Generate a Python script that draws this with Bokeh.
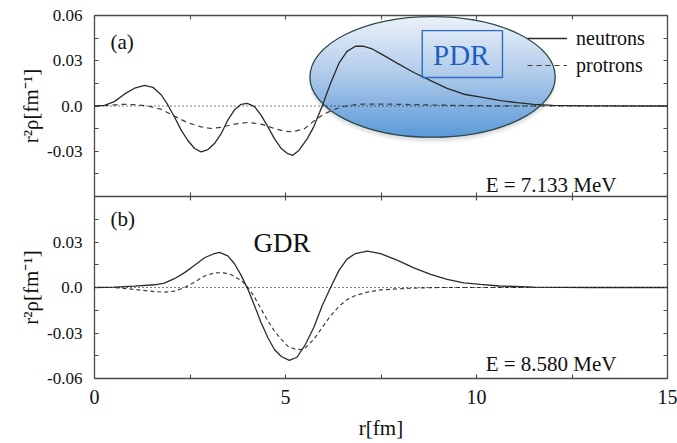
import numpy as np
from bokeh.plotting import figure
from bokeh.models import (Range1d, LinearAxis, FixedTicker, Span, BoxAnnotation,
                          Legend, LegendItem, Label, CustomJSTickFormatter)
from bokeh.layouts import column
from bokeh.embed import file_html
from bokeh.resources import INLINE

# ---------------- data ----------------
# panel (a), E = 7.133 MeV
r_a_n = [0, 0.26, 0.52, 0.79, 1.05, 1.31, 1.53, 1.75, 1.92, 2.09, 2.27, 2.44, 2.62, 2.79,
         2.97, 3.14, 3.32, 3.49, 3.66, 3.84, 4.0, 4.19, 4.36, 4.54, 4.71, 4.89, 5.06, 5.19,
         5.35, 5.57, 5.74, 5.96, 6.18, 6.4, 6.61, 6.83, 7.05, 7.27, 7.49, 7.92, 8.36, 8.8,
         9.23, 9.67, 10.19, 10.63, 11.06, 11.5, 12.0, 13.0, 15.0]
y_a_n = [0, 0.0004, 0.0029, 0.008, 0.0118, 0.0136, 0.0124, 0.0073, 0.0007, -0.0071, -0.016,
         -0.0227, -0.0282, -0.0304, -0.0289, -0.0249, -0.0182, -0.0093, -0.0027, 0.0011,
         0.0018, -0.0004, -0.006, -0.0138, -0.0216, -0.0282, -0.0316, -0.0327, -0.0295,
         -0.0216, -0.0138, 0.0, 0.0151, 0.0284, 0.0362, 0.0396, 0.0396, 0.0378, 0.0347,
         0.0284, 0.0222, 0.0168, 0.0117, 0.0078, 0.0055, 0.0036, 0.0022, 0.0011, 0.0004,
         0.0001, 0.0]
r_a_p = [0, 0.35, 0.7, 1.05, 1.4, 1.75, 2.09, 2.44, 2.79, 3.05, 3.32, 3.66, 4.01, 4.36,
         4.71, 4.97, 5.19, 5.5, 5.75, 6.0, 6.25, 6.5, 6.75, 7.0, 7.5, 8.0, 9.0, 10.0, 11.0, 15.0]
y_a_p = [0, 0.0004, 0.0011, 0.0009, 0.0, -0.0022, -0.0067, -0.0111, -0.0138, -0.0149,
         -0.0142, -0.012, -0.0109, -0.012, -0.0149, -0.0167, -0.0171, -0.015, -0.0098,
         -0.0055, -0.0025, -0.0005, 0.0006, 0.0012, 0.0013, 0.0011, 0.0006, 0.0002, 0.0, 0.0]

# panel (b), E = 8.580 MeV
r_b_n = [0, 0.52, 1.05, 1.57, 1.83, 2.09, 2.36, 2.62, 2.88, 3.14, 3.27, 3.49, 3.66, 3.84,
         4.01, 4.19, 4.36, 4.54, 4.71, 4.89, 5.1, 5.3, 5.52, 5.74, 5.96, 6.18, 6.4, 6.61,
         6.83, 7.14, 7.49, 7.92, 8.36, 8.8, 9.23, 9.67, 10.1, 10.6, 11.5, 13.0, 15.0]
y_b_n = [0, 0.0002, 0.0009, 0.0018, 0.0029, 0.0058, 0.0098, 0.0147, 0.0196, 0.0224, 0.0231,
         0.0209, 0.0158, 0.008, -0.0009, -0.012, -0.0231, -0.0331, -0.0409, -0.0455, -0.048,
         -0.046, -0.0376, -0.0264, -0.012, 0.0, 0.0113, 0.0187, 0.0224, 0.024, 0.0224,
         0.018, 0.0129, 0.0087, 0.0053, 0.0031, 0.002, 0.001, 0.0003, 0.0, 0.0]
r_b_p = [0, 0.52, 1.05, 1.57, 1.83, 2.09, 2.36, 2.62, 2.88, 3.14, 3.36, 3.58, 3.84, 4.01,
         4.19, 4.36, 4.54, 4.71, 4.89, 5.06, 5.24, 5.4, 5.52, 5.74, 5.96, 6.18, 6.4, 6.61,
         6.83, 7.14, 7.49, 7.92, 8.36, 9.0, 15.0]
y_b_p = [0, 0.0, -0.0013, -0.0027, -0.0031, -0.0024, 0.0, 0.0036, 0.0076, 0.0096, 0.0098,
         0.0084, 0.0047, 0.0003, -0.0064, -0.0142, -0.022, -0.0287, -0.0342, -0.0387,
         -0.0405, -0.041, -0.0398, -0.0342, -0.0264, -0.0187, -0.0124, -0.008, -0.0053,
         -0.0031, -0.0016, -0.0009, -0.0004, 0.0, 0.0]

x_major = [0, 5, 10, 15]
x_minor = [2.5, 7.5, 12.5]
y_major_a = [-0.03, 0.0, 0.03, 0.06]
y_minor_a = [-0.06, -0.045, -0.015, 0.015, 0.045]
y_major_b = [-0.06, -0.03, 0.0, 0.03]
y_minor_b = [-0.045, -0.015, 0.015, 0.045, 0.06]
y_labels = {-0.06: "-0.06", -0.03: "-0.03", 0: "0.0", 0.03: "0.03", 0.06: "0.06"}

FONT = "Liberation Serif"
AX = "#4a4a4a"
SOLID = "#2b2b2b"
DASH = "#3f3f3f"
INK = "#111111"


def style_axis(ax, ticks, minor, show=True, fs="17px"):
    ax.ticker = FixedTicker(ticks=ticks, minor_ticks=minor)
    ax.axis_line_color = AX
    ax.axis_line_width = 1.3
    ax.major_tick_line_color = AX
    ax.minor_tick_line_color = AX
    ax.major_tick_in = 4
    ax.major_tick_out = 0
    ax.minor_tick_in = 4
    ax.minor_tick_out = 0
    ax.major_tick_line_width = 1.1
    ax.minor_tick_line_width = 1.1
    if show:
        ax.major_label_text_font = FONT
        ax.major_label_text_font_size = fs
        ax.major_label_text_color = INK
    else:
        ax.formatter = CustomJSTickFormatter(code="return ''")
        ax.major_label_text_font_size = "0px"
        ax.major_label_standoff = 0


def make_panel(height, top_border, bottom_border):
    p = figure(width=677, height=height, output_backend="svg", toolbar_location=None,
               x_range=Range1d(0, 15), y_range=Range1d(-0.06, 0.06),
               min_border_left=94, min_border_right=10,
               min_border_top=top_border, min_border_bottom=bottom_border)
    p.grid.visible = False
    p.outline_line_color = None
    p.background_fill_color = "white"
    p.border_fill_color = "white"
    return p


def y_label(ax):
    ax.axis_label = "r²ρ[fm⁻¹]"
    ax.axis_label_text_font = FONT
    ax.axis_label_text_font_style = "normal"
    ax.axis_label_text_font_size = "21px"
    ax.axis_label_text_color = INK
    ax.axis_label_standoff = 1
    ax.major_label_standoff = 12


# ---------------- panel (a) ----------------
pa = make_panel(196, 15, 0)
style_axis(pa.xaxis[0], x_major, x_minor, show=False)
style_axis(pa.yaxis[0], y_major_a, y_minor_a)
pa.yaxis[0].major_label_overrides = {k: v for k, v in y_labels.items() if k in y_major_a}
y_label(pa.yaxis[0])
ax_top = LinearAxis()
style_axis(ax_top, x_major, x_minor, show=False)
pa.add_layout(ax_top, "above")
ax_r = LinearAxis()
style_axis(ax_r, y_major_a, y_minor_a, show=False)
pa.add_layout(ax_r, "right")

# PDR ellipse with a vertical gradient (bands)
cx, cy, ea, eb = 8.85, 0.0193, 3.21, 0.040
stops_t = [0.0, 0.45, 1.0]
stops_c = [(0xEC, 0xF2, 0xFA), (0xB4, 0xCE, 0xEC), (0x5A, 0x99, 0xD8)]
nb = 70
edges = np.linspace(cy + eb, cy - eb, nb + 1)
bxs, bys, bcols = [], [], []
for i in range(nb):
    yy = np.linspace(edges[i], edges[i + 1], 6)
    half = ea * np.sqrt(np.clip(1 - ((yy - cy) / eb) ** 2, 0, 1))
    bxs.append(list(cx - half) + list((cx + half)[::-1]))
    bys.append(list(yy) + list(yy[::-1]))
    t = (i + 0.5) / nb
    rgb = [int(round(np.interp(t, stops_t, [c[k] for c in stops_c]))) for k in range(3)]
    bcols.append("#%02x%02x%02x" % tuple(rgb))
# soft shadow
for k, al in enumerate([0.10, 0.10, 0.08]):
    pa.ellipse(x=cx, y=cy - 0.0015 - 0.0008 * k, width=2 * ea + 0.03 * k,
               height=2 * eb + 0.001 * k, fill_color="#7a7a7a", fill_alpha=al, line_color=None)
pa.patches(xs=bxs, ys=bys, fill_color=bcols, line_color=bcols, line_width=0.8)

pa.add_layout(Span(location=0, dimension="width", line_color="black", line_width=1,
                   line_dash="1 3"))
rn_a = pa.line(r_a_n, y_a_n, line_color=SOLID, line_width=1.3)
rp_a = pa.line(r_a_p, y_a_p, line_color=DASH, line_width=1.2, line_dash="5 4")
pa.ellipse(x=cx, y=cy, width=2 * ea, height=2 * eb, fill_color=None,
           line_color="#2f4c4c", line_width=1.3)

pa.add_layout(BoxAnnotation(left=8.58, right=10.68, bottom=0.0189, top=0.050,
                            fill_color=None, fill_alpha=0, line_color="#2f6cc2",
                            line_alpha=1.0, line_width=1.4))
pa.add_layout(Label(x=9.6, y=0.0340, text="PDR", text_align="center",
                    text_baseline="alphabetic", text_font=FONT, text_font_size="29px",
                    text_color="#1f5fbd"))

leg = Legend(items=[LegendItem(label="neutrons", renderers=[rn_a]),
                    LegendItem(label="protrons", renderers=[rp_a])],
             location=(433, 119), orientation="vertical",
             label_text_font=FONT, label_text_font_size="20px", label_text_color=INK,
             glyph_width=40, glyph_height=24, label_height=24, spacing=3,
             label_standoff=9, padding=0, margin=0,
             background_fill_alpha=0, border_line_color=None)
pa.add_layout(leg)

pa.add_layout(Label(x=0.42, y=0.0422, text="(a)", text_font=FONT, text_font_size="21px",
                    text_baseline="alphabetic", text_color=INK))
pa.add_layout(Label(x=10.24, y=-0.0524, text="E = 7.133 MeV", text_font=FONT,
                    text_font_size="21px", text_baseline="alphabetic", text_color=INK))

# ---------------- panel (b) ----------------
pb = make_panel(247, 0, 65)
style_axis(pb.xaxis[0], x_major, x_minor, fs="20px")
pb.xaxis[0].major_label_standoff = 11
pb.xaxis[0].axis_label = "r[fm]"
pb.xaxis[0].axis_label_text_font = FONT
pb.xaxis[0].axis_label_text_font_style = "normal"
pb.xaxis[0].axis_label_text_font_size = "21px"
pb.xaxis[0].axis_label_text_color = INK
pb.xaxis[0].axis_label_standoff = 9
style_axis(pb.yaxis[0], y_major_b, y_minor_b)
pb.yaxis[0].major_label_overrides = {k: v for k, v in y_labels.items() if k in y_major_b}
y_label(pb.yaxis[0])
bx_top = LinearAxis()
style_axis(bx_top, x_major, x_minor, show=False)
pb.add_layout(bx_top, "above")
bx_r = LinearAxis()
style_axis(bx_r, y_major_b, y_minor_b, show=False)
pb.add_layout(bx_r, "right")

pb.add_layout(Span(location=0, dimension="width", line_color="black", line_width=1,
                   line_dash="1 3"))
pb.line(r_b_n, y_b_n, line_color=SOLID, line_width=1.3)
pb.line(r_b_p, y_b_p, line_color=DASH, line_width=1.2, line_dash="4 3")

pb.add_layout(Label(x=0.42, y=0.0452, text="(b)", text_font=FONT, text_font_size="21px",
                    text_baseline="alphabetic", text_color=INK))
pb.add_layout(Label(x=4.16, y=0.0294, text="GDR", text_font=FONT, text_font_size="27px",
                    text_baseline="alphabetic", text_color=INK))
pb.add_layout(Label(x=10.24, y=-0.0506, text="E = 8.580 MeV", text_font=FONT,
                    text_font_size="21px", text_baseline="alphabetic", text_color=INK))

layout = column(pa, pb, spacing=0)
open("out.html", "w").write(file_html(layout, INLINE))
